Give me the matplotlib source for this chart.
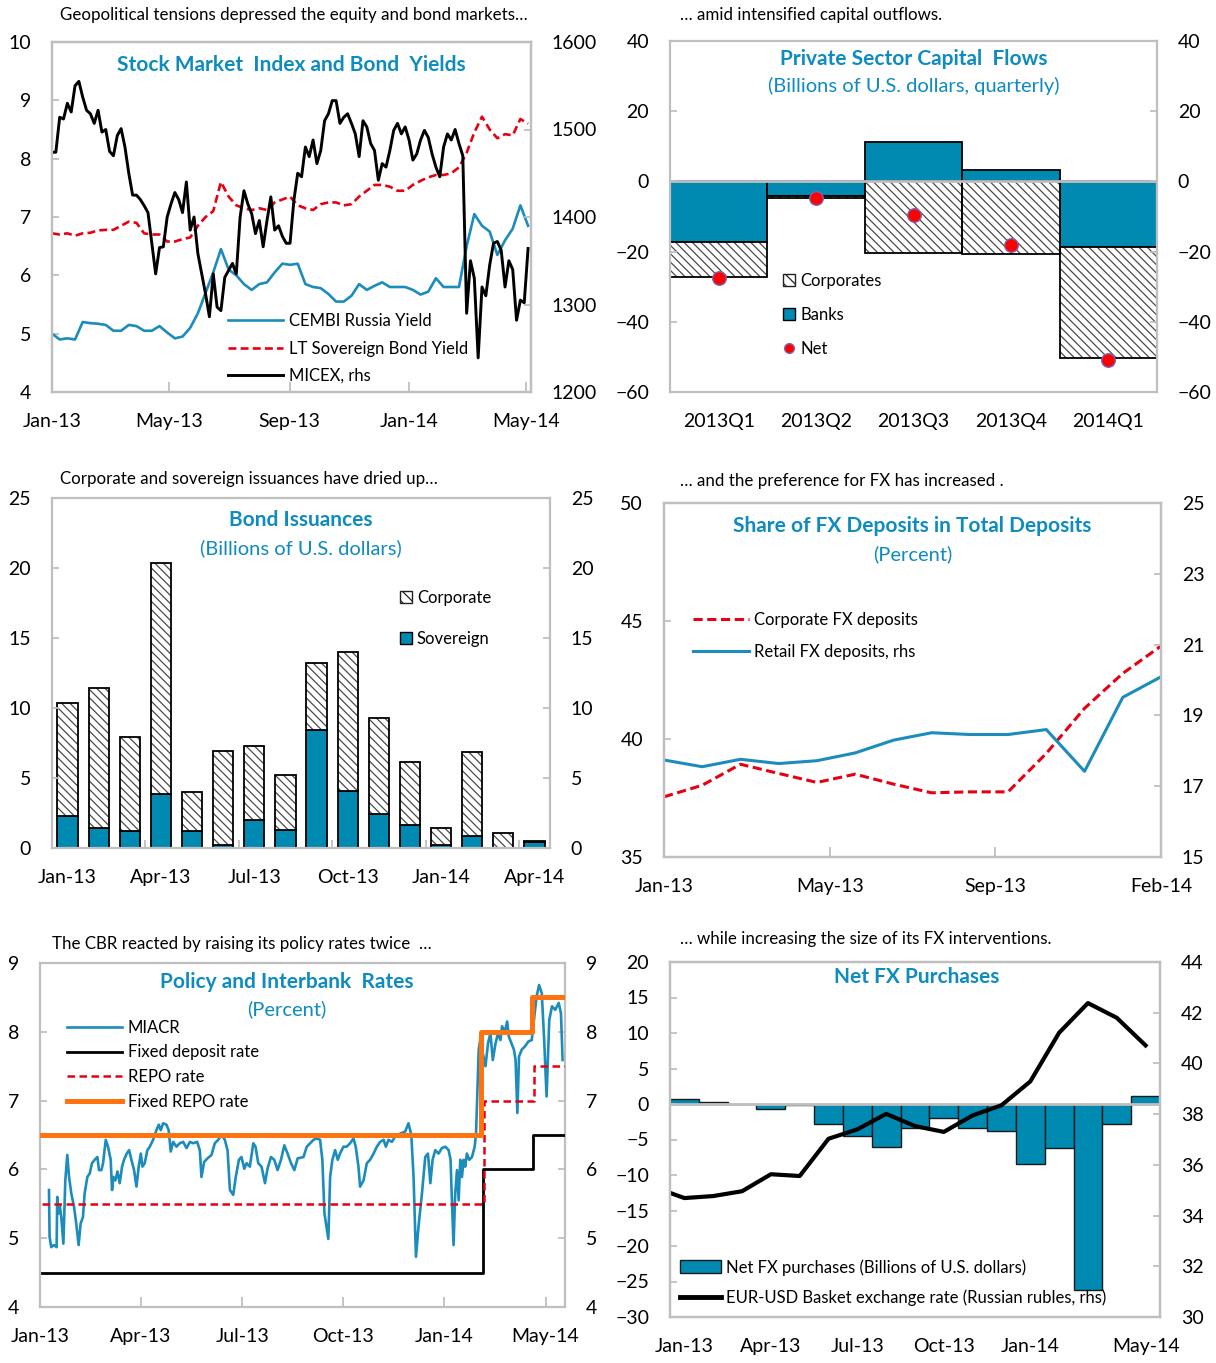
import numpy as np
import matplotlib
matplotlib.use('Agg')
import matplotlib.pyplot as plt
from matplotlib.patches import Patch
from matplotlib.lines import Line2D

plt.rcParams['font.family'] = ['Lato', 'DejaVu Sans']
plt.rcParams['hatch.linewidth'] = 0.9

TEAL = '#0089B1'
LBLUE = '#1B8CBB'
TITLE = '#0E8BBF'
RED = '#E60012'
ORANGE = '#FF7410'
GREY = '#BFBFBF'
HATCH_C = '#4a4a4a'
HATCH = '\\\\\\\\'

# ---------------- panel 1: stock market and bond yields
micex = [1474, 1474, 1514, 1512, 1530, 1520, 1550, 1555, 1537, 1522,
         1518, 1507, 1522, 1497, 1500, 1475, 1470, 1493, 1501, 1480,
         1450, 1425, 1425, 1420, 1413, 1405, 1370, 1335, 1365, 1366,
         1400, 1415, 1428, 1420, 1405, 1440, 1385, 1400, 1358, 1335,
         1312, 1286, 1335, 1297, 1293, 1331, 1339, 1347, 1335, 1400,
         1430, 1415, 1404, 1381, 1396, 1366, 1396, 1423, 1385, 1390,
         1378, 1370, 1370, 1419, 1450, 1446, 1480, 1469, 1488, 1461,
         1476, 1510, 1518, 1533, 1533, 1507, 1514, 1518, 1507, 1495,
         1469, 1510, 1503, 1484, 1476, 1442, 1461, 1457, 1476, 1499,
         1507, 1495, 1503, 1488, 1465, 1472, 1488, 1499, 1491, 1472,
         1457, 1446, 1480, 1495, 1488, 1500, 1484, 1470, 1290, 1350,
         1330, 1239, 1320, 1310, 1345, 1370, 1372, 1362, 1320, 1350,
         1340, 1282, 1305, 1302, 1364]
cembi = [5.0, 4.9, 4.92, 4.9, 5.2, 5.18, 5.17, 5.15, 5.05, 5.05,
         5.15, 5.13, 5.05, 5.05, 5.13, 5.02, 4.92, 4.95, 5.1, 5.35,
         5.7, 6.05, 6.45, 6.1, 6.0, 5.85, 5.75, 5.85, 5.88, 6.05,
         6.2, 6.18, 6.2, 5.85, 5.8, 5.78, 5.68, 5.55, 5.55, 5.65,
         5.85, 5.75, 5.82, 5.88, 5.8, 5.8, 5.8, 5.75, 5.67, 5.72,
         5.95, 5.8, 5.8, 5.8, 6.5, 7.05, 6.85, 6.75, 6.35, 6.6,
         6.8, 7.2, 6.85]
lt_sov = [6.72, 6.7, 6.72, 6.68, 6.72, 6.73, 6.77, 6.78, 6.78, 6.85,
          6.92, 6.9, 6.72, 6.7, 6.7, 6.58, 6.58, 6.62, 6.65, 6.85,
          7.0, 7.1, 7.6, 7.35, 7.2, 7.15, 7.12, 7.15, 7.12, 7.25,
          7.3, 7.35, 7.2, 7.15, 7.12, 7.22, 7.25, 7.25, 7.2, 7.22,
          7.35, 7.45, 7.55, 7.55, 7.52, 7.45, 7.45, 7.55, 7.62, 7.68,
          7.72, 7.72, 7.75, 7.85, 8.1, 8.45, 8.72, 8.5, 8.35, 8.42,
          8.4, 8.68, 8.6]
last_day = 487  # days after 1 Jan 2013 of the last observation
p1_tick_days = [0, 120, 243, 365, 485]
p1_tick_labels = ['Jan-13', 'May-13', 'Sep-13', 'Jan-14', 'May-14']

# ---------------- panel 2: capital flows
quarters = ['2013Q1', '2013Q2', '2013Q3', '2013Q4', '2014Q1']
banks = [-17.3, -4.3, 11.2, 3.3, -18.7]
corporates = [-10.0, -0.5, -20.3, -20.8, -31.5]
net_flows = [-27.5, -4.8, -9.7, -18.0, -50.8]

# ---------------- panel 3: bond issuance
issue_months = 16
sovereign = [2.29, 1.43, 1.21, 3.83, 1.21, 0.21, 1.98, 1.31,
             8.45, 4.07, 2.43, 1.62, 0.21, 0.88, 0.0, 0.45]
corporate = [8.07, 10.02, 6.72, 16.53, 2.77, 6.72, 5.31, 3.88,
             4.76, 9.93, 6.83, 4.55, 1.22, 5.95, 1.1, 0.07]
p3_tick_idx = [0, 3, 6, 9, 12, 15]
p3_tick_labels = ['Jan-13', 'Apr-13', 'Jul-13', 'Oct-13', 'Jan-14', 'Apr-14']

# ---------------- panel 4: FX deposits
corp_fx = [37.55, 38.04, 38.93, 38.54, 38.16, 38.51, 38.09, 37.72,
           37.76, 37.76, 39.39, 41.30, 42.78, 43.94]
retail_fx = [17.74, 17.55, 17.76, 17.64, 17.72, 17.94, 18.30, 18.51,
             18.46, 18.46, 18.60, 17.42, 19.51, 20.09]
p4_tick_labels = ['Jan-13', 'May-13', 'Sep-13', 'Feb-14']

# ---------------- panel 5: policy rates (x = business days from 1 Jan 2013)
miacr_bday = [6.0, 6.4, 7.5, 9.3, 11.1, 11.5, 12.4, 13.3, 14.2, 15.6,
              16.9, 18.2, 19.4, 20.9, 22.7, 24.2, 25.8, 27.1, 28.7, 29.8,
              31.6, 33.2, 34.7, 36.5, 38.3, 39.4, 41.0, 42.1, 43.9, 45.4,
              47.2, 48.1, 49.0, 50.3, 51.7, 53.2, 54.8, 56.1, 57.9, 59.5,
              61.0, 62.8, 64.4, 65.9, 67.3, 68.4, 69.9, 71.7, 73.3, 75.5,
              77.7, 79.3, 80.6, 82.2, 84.4, 85.9, 87.3, 88.9, 91.1, 93.3,
              95.6, 97.8, 100.1, 102.3, 104.9, 106.7, 107.8, 109.6, 111.8, 114.5,
              116.7, 119.0, 121.2, 123.4, 125.2, 126.8, 129.0, 130.7, 132.8, 134.5,
              136.4, 137.9, 140.1, 142.4, 143.9, 145.7, 147.9, 150.2, 151.9, 154.2,
              156.4, 158.6, 160.9, 163.1, 165.3, 167.6, 169.8, 172.0,
              175.9, 178.1, 180.3, 182.6, 184.8, 187.0, 188.5, 189.9, 192.5, 193.7,
              195.2, 197.0, 198.8, 200.3, 202.6, 204.8, 207.0, 209.3, 210.8, 212.6,
              213.7, 216.0, 218.2, 220.4, 222.7, 224.9, 227.1, 229.4, 230.9, 232.7,
              234.9, 237.2, 240.5, 243.8, 246.0, 247.9, 249.4, 251.0, 252.7, 255.0,
              257.2, 259.0, 260.6, 262.1, 263.9, 266.1, 268.3, 270.6, 272.8, 274.1,
              275.0, 276.1, 277.2, 278.4, 279.5, 280.6, 281.7, 282.8, 283.9, 285.0,
              286.6, 288.4, 290.2, 291.1, 292.0, 292.9, 294.2, 295.6, 297.4, 299.1,
              300.7, 302.3, 304.1, 305.8, 307.4, 308.5, 310.3, 311.9, 313.0, 314.8,
              316.4, 317.5, 318.7, 319.8, 321.6, 323.8, 326.1, 328.3, 329.9, 331.5,
              333.2, 335.0, 336.6, 338.2, 340.0, 341.8, 344.0, 346.3, 347.8, 348.9]
miacr = [5.70, 5.02, 4.87, 4.90, 4.87, 5.60, 5.36, 5.46, 5.31, 4.92,
         5.84, 6.21, 5.89, 5.65, 5.46, 5.21, 4.90, 5.21, 5.31, 5.65,
         5.89, 5.94, 6.09, 6.14, 6.18, 5.99, 5.99, 6.09, 6.43, 6.33,
         6.14, 5.70, 5.89, 5.84, 5.97, 5.80, 6.04, 6.14, 6.23, 6.28,
         6.14, 5.99, 5.75, 6.04, 6.23, 6.04, 6.09, 6.28, 6.33, 6.43,
         6.57, 6.65, 6.57, 6.67, 6.65, 6.57, 6.26, 6.40, 6.33, 6.38,
         6.40, 6.31, 6.40, 6.38, 6.40, 6.28, 5.89, 6.11, 6.16, 6.21,
         6.38, 6.43, 6.50, 6.43, 6.28, 5.70, 5.63, 5.89, 6.14, 6.18,
         6.01, 6.09, 6.04, 6.38, 6.33, 6.09, 6.04, 5.80, 6.01, 6.18,
         6.14, 5.99, 6.14, 6.35, 6.23, 6.09, 5.99, 6.16,
         6.18, 6.33, 6.38, 6.43, 6.45, 6.43, 6.14, 5.36, 4.99, 5.89,
         6.14, 6.28, 6.14, 6.23, 6.33, 6.33, 6.38, 6.45, 6.33, 6.04,
         5.75, 5.84, 6.09, 6.14, 6.23, 6.33, 6.40, 6.43, 6.33, 6.43,
         6.40, 6.48, 6.52, 6.55, 6.67, 6.50, 5.89, 4.73, 5.17, 5.65,
         6.18, 6.23, 5.80, 6.14, 6.28, 6.23, 6.31, 6.33, 6.28, 6.14,
         5.55, 4.90, 5.65, 5.99, 5.55, 6.14, 5.89, 6.14, 6.04, 6.23,
         6.14, 6.18, 6.33, 6.52, 7.11, 7.74, 7.93, 7.69, 7.50, 7.83,
         7.98, 7.59, 7.83, 7.98, 7.88, 8.08, 8.00, 8.15, 7.93, 7.83,
         7.74, 7.59, 6.82, 7.64, 7.74, 7.79, 7.86, 7.88, 8.20, 8.51,
         8.68, 8.56, 7.88, 7.06, 8.17, 8.37, 8.32, 8.42, 8.27, 7.59]
fixed_repo_bday = [1.5, 294.7, 328.6, 350.5]
fixed_repo = [6.5, 8.0, 8.5, 8.5]
repo_bday = [1.5, 296.3, 329.6, 350.5]
repo = [5.5, 7.0, 7.5, 7.5]
deposit_bday = [1.5, 295.6, 329.2, 350.5]
deposit = [4.5, 6.0, 6.5, 6.5]
p5_tick_bday = [0, 67.5, 135, 202.5, 270, 337.5]
p5_tick_labels = ['Jan-13', 'Apr-13', 'Jul-13', 'Oct-13', 'Jan-14', 'May-14']

# ---------------- panel 6: FX interventions (Jan-13 .. May-14), rate starts Dec-12
fx_purchases = [0.66, 0.28, 0.0, -0.66, -0.15, -2.86, -4.55, -6.06, -3.38,
                -1.92, -3.43, -3.85, -8.45, -6.24, -26.24, -2.86, 1.08]
basket = [35.1, 34.69, 34.77, 34.96, 35.63, 35.56, 37.03, 37.40, 38.01,
          37.53, 37.30, 37.95, 38.35, 39.29, 41.21, 42.38, 41.80, 40.71]
p6_tick_idx = [0, 3, 6, 9, 12, 16]
p6_tick_labels = ['Jan-13', 'Apr-13', 'Jul-13', 'Oct-13', 'Jan-14', 'May-14']

W, H = 1216, 1363
fig = plt.figure(figsize=(W / 100, H / 100), dpi=100)


def add_ax(l, r, t, b):
    return fig.add_axes([l / W, 1 - b / H, (r - l) / W, (b - t) / H])


def style(ax):
    for s in ax.spines.values():
        s.set_color(GREY)
        s.set_linewidth(1.6)
    ax.tick_params(direction='in', color=GREY, width=1.3, length=5,
                   labelsize=14, pad=15)


def title(ax, text, y, x=0.5, bold=True):
    ax.text(x, y, text, transform=ax.transAxes, ha='center', va='center',
            color=TITLE, fontsize=15 if bold else 14.5,
            fontweight='bold' if bold else 'normal', zorder=10)


def note(x, y, text):
    fig.text(x / W, 1 - y / H, text, ha='left', va='center', fontsize=12.2)


def hatched_bars(ax, x, h, bottom, width):
    # hatch in grey, outline in black
    ax.bar(x, h, bottom=bottom, width=width, color='white', edgecolor=HATCH_C,
           hatch=HATCH, lw=0)
    ax.bar(x, h, bottom=bottom, width=width, color='none', edgecolor='black', lw=1.3)


def hatch_patch():
    return Patch(facecolor='white', edgecolor='#222222', hatch='\\\\\\')


# ===== panel 1
ax = add_ax(52, 531, 42, 392)
yd = np.linspace(0, last_day, len(cembi))
md = np.linspace(0, last_day, len(micex))
l1, = ax.plot(yd, cembi, color=LBLUE, lw=1.9)
l2, = ax.plot(yd, lt_sov, color=RED, lw=1.9, dashes=(3, 1.6))
ax.set_ylim(4, 10)
ax.set_yticks(range(4, 11))
ax.set_xlim(0, 490)
ax.set_xticks(p1_tick_days)
ax.set_xticklabels(p1_tick_labels)
ax2 = ax.twinx()
l3, = ax2.plot(md, micex, color='black', lw=2.1)
ax2.set_ylim(1200, 1600)
ax2.set_yticks(range(1200, 1601, 100))
style(ax)
style(ax2)
ax.tick_params(axis='x', length=7)
title(ax, 'Stock Market  Index and Bond  Yields', 0.933)
ax2.legend([l1, l2, l3], ['CEMBI Russia Yield', 'LT Sovereign Bond Yield', 'MICEX, rhs'],
           loc='upper left', bbox_to_anchor=(0.367, 0.225), frameon=False,
           fontsize=12, handlelength=3.3, handletextpad=0.4, labelspacing=0.68,
           borderpad=0, borderaxespad=0)
note(60, 15, 'Geopolitical tensions depressed the equity and bond markets\u2026')

# ===== panel 2
ax = add_ax(670, 1157, 41, 392)
x = np.arange(len(quarters))
b = np.array(banks)
ax.bar(x, banks, width=1.0, color=TEAL, edgecolor='black', lw=1.3)
hatched_bars(ax, x, corporates, np.where(b < 0, b, 0), 1.0)
ax.axhline(0, color=GREY, lw=2, zorder=3)
ax.scatter(x, net_flows, s=95, color='#FF0000', edgecolors='#8060B0', lw=1, zorder=5)
ax.set_xlim(-0.5, 4.5)
ax.set_ylim(-60, 40)
ax.set_yticks(range(-60, 41, 20))
ax.set_xticks(x)
ax.set_xticklabels(quarters)
style(ax)
ax.tick_params(right=True, labelright=True)
ax.tick_params(axis='x', length=0)
title(ax, 'Private Sector Capital  Flows', 0.948)
title(ax, '(Billions of U.S. dollars, quarterly)', 0.871, bold=False)
ax.legend([hatch_patch(),
           Patch(facecolor=TEAL, edgecolor='black'),
           Line2D([], [], ls='none', marker='o', ms=7, mfc='#FF0000', mec='#8060B0')],
          ['Corporates', 'Banks', 'Net'], loc='upper left',
          bbox_to_anchor=(0.232, 0.34), frameon=False, fontsize=12,
          handlelength=0.7, handleheight=0.7, handletextpad=0.35,
          labelspacing=1.1, borderpad=0, borderaxespad=0)
note(680, 15, '\u2026 amid intensified capital outflows.')

# ===== panel 3
ax = add_ax(52, 550, 498, 848)
x = np.arange(issue_months)
ax.bar(x, sovereign, width=0.65, color=TEAL, edgecolor='black', lw=1.3)
hatched_bars(ax, x, corporate, sovereign, 0.65)
ax.set_xlim(-0.5, issue_months - 0.5)
ax.set_ylim(0, 25)
ax.set_yticks(range(0, 26, 5))
ax.set_xticks(p3_tick_idx)
ax.set_xticklabels(p3_tick_labels)
ax.set_xticks([2.5, 5.5, 8.5, 11.5, 14.5], minor=True)
style(ax)
ax.tick_params(right=True, labelright=True)
ax.tick_params(axis='x', which='major', length=0)
ax.tick_params(axis='x', which='minor', direction='in', color=GREY, width=1.3, length=6)
title(ax, 'Bond Issuances', 0.938)
title(ax, '(Billions of U.S. dollars)', 0.857, bold=False)
ax.legend([hatch_patch(), Patch(facecolor=TEAL, edgecolor='black')],
          ['Corporate', 'Sovereign'], loc='upper left',
          bbox_to_anchor=(0.699, 0.738), frameon=False, fontsize=12,
          handlelength=0.7, handleheight=0.7, handletextpad=0.3,
          labelspacing=1.5, borderpad=0, borderaxespad=0)
note(60, 479, 'Corporate and sovereign issuances have dried up\u2026')

# ===== panel 4
ax = add_ax(664, 1161, 503, 857)
x = np.arange(len(corp_fx))
r1, = ax.plot(x, corp_fx, color=RED, lw=2.2, dashes=(3, 1.5))
ax.set_ylim(35, 50)
ax.set_yticks([35, 40, 45, 50])
ax.set_xlim(0, len(corp_fx) - 1)
n = len(corp_fx) - 1
ax.set_xticks([0, n / 3, 2 * n / 3, n])
ax.set_xticklabels(p4_tick_labels)
ax2 = ax.twinx()
r2, = ax2.plot(x, retail_fx, color=LBLUE, lw=2.2)
ax2.set_ylim(15, 25)
ax2.set_yticks(range(15, 26, 2))
style(ax)
style(ax2)
ax.tick_params(axis='x', length=7)
title(ax, 'Share of FX Deposits in Total Deposits', 0.935)
title(ax, '(Percent)', 0.856, bold=False)
ax2.legend([r1, r2], ['Corporate FX deposits', 'Retail FX deposits, rhs'],
           loc='upper left', bbox_to_anchor=(0.058, 0.692), frameon=False,
           fontsize=12, handlelength=3.4, handletextpad=0.3, labelspacing=0.95,
           borderpad=0, borderaxespad=0)
note(680, 481, '\u2026 and the preference for FX has increased .')

# ===== panel 5
ax = add_ax(40, 565, 963, 1307)
m1, = ax.plot(miacr_bday, miacr, color=LBLUE, lw=1.9, zorder=2)
m2, = ax.step(deposit_bday, deposit, where='post', color='black', lw=2.0, zorder=3)
m3, = ax.step(repo_bday, repo, where='post', color=RED, lw=1.8, dashes=(3, 1.8), zorder=4)
m4, = ax.step(fixed_repo_bday, fixed_repo, where='post', color=ORANGE, lw=3.6, zorder=5)
ax.set_xlim(0, 350.5)
ax.set_ylim(4, 9)
ax.set_yticks(range(4, 10))
ax.set_xticks(p5_tick_bday)
ax.set_xticklabels(p5_tick_labels)
style(ax)
ax.tick_params(right=True, labelright=True)
ax.tick_params(axis='x', length=7)
title(ax, 'Policy and Interbank  Rates', 0.946, x=0.47)
title(ax, '(Percent)', 0.867, x=0.47, bold=False)
ax.legend([m1, m2, m3, m4], ['MIACR', 'Fixed deposit rate', 'REPO rate', 'Fixed REPO rate'],
          loc='upper left', bbox_to_anchor=(0.051, 0.835), frameon=False,
          fontsize=12, handlelength=3.3, handletextpad=0.35, labelspacing=0.52,
          borderpad=0, borderaxespad=0)
note(52, 944, 'The CBR reacted by raising its policy rates twice  \u2026')

# ===== panel 6
ax = add_ax(670, 1160, 962, 1317)
x = np.arange(len(fx_purchases))
ax.bar(x, fx_purchases, width=1.0, color=TEAL, edgecolor='#1a1a1a', lw=1.0)
ax.axhline(0, color=GREY, lw=2, zorder=3)
ax.set_xlim(-0.5, len(fx_purchases) - 0.5)
ax.set_ylim(-30, 20)
ax.set_yticks(range(-30, 21, 5))
ax.set_xticks(p6_tick_idx)
ax.set_xticklabels(p6_tick_labels)
ax2 = ax.twinx()
ax2.plot(np.arange(-1, len(basket) - 1), basket, color='black', lw=3.0)
ax2.set_ylim(30, 44)
ax2.set_yticks(range(30, 45, 2))
style(ax)
style(ax2)
ax.tick_params(axis='x', length=0)
title(ax, 'Net FX Purchases', 0.957, x=0.504)
ax2.legend([Patch(facecolor=TEAL, edgecolor='#1a1a1a'),
            Line2D([], [], color='black', lw=3.5)],
           ['Net FX purchases (Billions of U.S. dollars)',
            'EUR-USD Basket exchange rate (Russian rubles, rhs)'],
           loc='lower left', bbox_to_anchor=(0.02, 0.03), frameon=False,
           fontsize=12, handlelength=2.5, handleheight=0.8, handletextpad=0.25,
           labelspacing=0.85, borderpad=0, borderaxespad=0)
note(680, 939, '\u2026 while increasing the size of its FX interventions.')

fig.savefig('out.png', dpi=100)
